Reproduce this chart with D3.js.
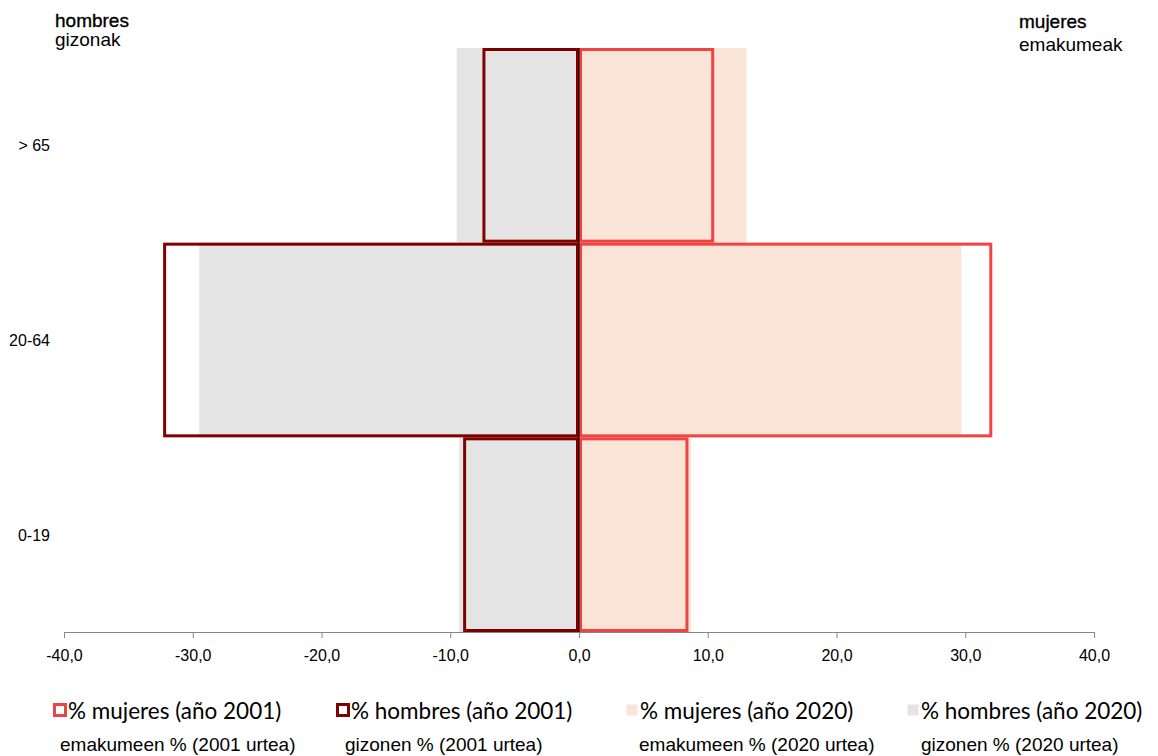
<!DOCTYPE html>
<html><head><meta charset="utf-8">
<script src="https://cdn.jsdelivr.net/npm/d3@7"></script>
<style>body{margin:0;background:#fff}svg{display:block}</style>
</head><body>
<svg id="c" width="1158" height="756"></svg>
<script>
const categories = ["> 65", "20-64", "0-19"];
const men2020 = [-9.5, -29.5, -9.3];
const women2020 = [13.0, 29.7, 8.7];
const men2001 = [-7.5, -32.3, -9.0];
const women2001 = [10.5, 32.1, 8.5];
const ticks = [-40, -30, -20, -10, 0, 10, 20, 30, 40];
const legendTop = ["% mujeres (año 2001)", "% hombres (año 2001)", "% mujeres (año 2020)", "% hombres (año 2020)"];
const legendBottom = ["emakumeen % (2001 urtea)", "gizonen % (2001 urtea)", "emakumeen % (2020 urtea)", "gizonen % (2020 urtea)"];

const svg = d3.select("#c");
const x = d3.scaleLinear().domain([-40, 40]).range([64, 1094]);
const y = d3.scaleBand().domain(categories).range([48, 632]).padding(0);

const C = {w01: "#F04343", m01: "#7F0000", w20: "#FAE3D7", m20: "#E4E4E4"};
const hf = "Liberation Sans, Arial, sans-serif";

function fillBars(vals, color) {
  svg.append("g").selectAll("rect").data(vals).join("rect")
    .attr("x", d => Math.min(x(0), x(d)))
    .attr("width", d => Math.abs(x(d) - x(0)))
    .attr("y", (d, i) => y(categories[i]))
    .attr("height", y.bandwidth())
    .attr("fill", color);
}
function outlineBars(vals, color) {
  svg.append("g").selectAll("rect").data(vals).join("rect")
    .attr("x", d => Math.min(x(0), x(d)) + 1.5)
    .attr("width", d => Math.abs(x(d) - x(0)) - 3)
    .attr("y", (d, i) => y(categories[i]) + 1.5)
    .attr("height", y.bandwidth() - 3)
    .attr("fill", "none")
    .attr("stroke", color)
    .attr("stroke-width", 3);
}
fillBars(men2020, C.m20);
fillBars(women2020, C.w20);
outlineBars(men2001, C.m01);
outlineBars(women2001, C.w01);

// zero line
svg.append("line").attr("x1", x(0)).attr("x2", x(0)).attr("y1", 48).attr("y2", 632)
  .attr("stroke", "#000").attr("stroke-width", 1);

// x axis
const fmt = d => d3.format(".1f")(d).replace("−", "-").replace(".", ",");
const ax = svg.append("g").attr("transform", "translate(0,632)")
  .call(d3.axisBottom(x).tickValues(ticks).tickFormat(fmt).tickSize(6).tickSizeOuter(0));
ax.select(".domain").attr("stroke", "#868686");
ax.selectAll(".tick line").attr("stroke", "#868686");
ax.selectAll(".tick text").attr("font-family", hf)
  .attr("font-size", 16).attr("fill", "#000").attr("y", 29).attr("dy", 0);

// category labels
svg.append("g").selectAll("text").data(categories).join("text")
  .attr("x", 50).attr("y", d => y(d) + y.bandwidth() / 2 + 6)
  .attr("text-anchor", "end")
  .attr("font-family", hf).attr("font-size", 16)
  .text(d => d);

// headers
svg.append("text").attr("x", 55).attr("y", 27).attr("font-family", hf).attr("font-size", 19)
  .attr("stroke", "#000").attr("stroke-width", 0.35).text("hombres");
svg.append("text").attr("x", 55).attr("y", 46).attr("font-family", hf).attr("font-size", 19).text("gizonak");
svg.append("text").attr("x", 1019).attr("y", 28).attr("font-family", hf).attr("font-size", 19)
  .attr("stroke", "#000").attr("stroke-width", 0.35).text("mujeres");
svg.append("text").attr("x", 1019).attr("y", 51).attr("font-family", hf).attr("font-size", 19).text("emakumeak");

// legend
const legX = [53, 336, 625, 906];
const legSubX = [60, 345, 639, 921];
const legStyle = [
  {fill: "#fff", stroke: C.w01}, {fill: "#fff", stroke: C.m01},
  {fill: C.w20, stroke: "none"}, {fill: C.m20, stroke: "none"}
];
const lg = svg.append("g");
legendTop.forEach((t, i) => {
  lg.append("rect").attr("x", legX[i] + 1.5).attr("y", 704.5).attr("width", 11).attr("height", 11)
    .attr("fill", legStyle[i].fill).attr("stroke", legStyle[i].stroke).attr("stroke-width", 3);
  lg.append("text").attr("x", legX[i] + 15).attr("y", 719)
    .attr("font-family", "Lato, Carlito, sans-serif").attr("font-size", 22.5).text(t);
  lg.append("text").attr("x", legSubX[i]).attr("y", 751)
    .attr("font-family", hf).attr("font-size", 19).text(legendBottom[i]);
});
</script>
</body></html>
